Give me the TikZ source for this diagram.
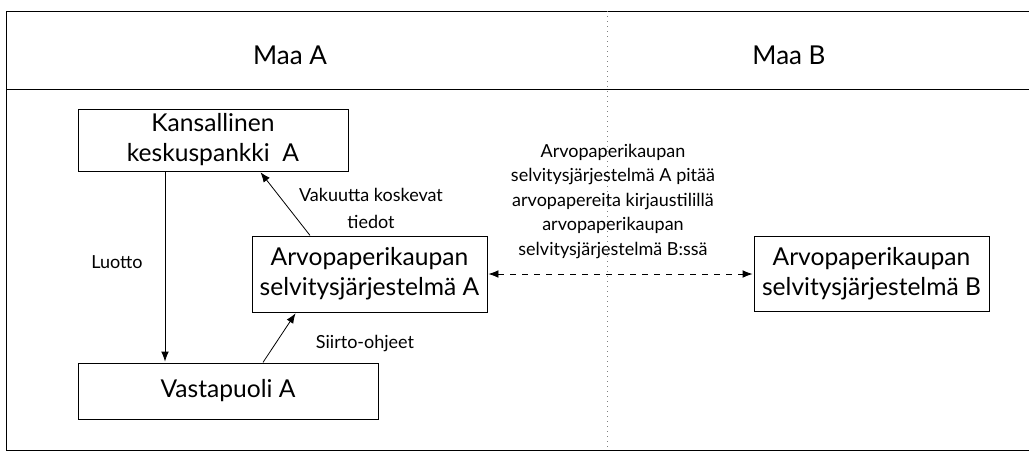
\documentclass[tikz,border=0pt]{standalone}
\usepackage{fontspec}
\setmainfont{Lato}
\usetikzlibrary{arrows.meta}
\begin{document}
\begin{tikzpicture}[x=0.5pt,y=-0.5pt]
\tikzset{ >={Latex[length=5.5pt,width=4.2pt]}, line width=0.6pt,
  laatikko/.style={draw, align=center, inner sep=0pt, font=\fontsize{12.3}{15}\selectfont},
  selite/.style={align=center, inner sep=0pt, font=\fontsize{9}{13.5}\selectfont},
  otsikko/.style={inner sep=0pt, font=\fontsize{13}{15}\selectfont},
}
\useasboundingbox (0,0) rectangle (1029,463);

%\draw [lightgray, dashed](0,0) grid (1029,463);

%%% Kehys

\draw [line width=0.5pt] (1029,11) -- (6,11) -- (6,450) -- (1029,450);
\draw [line width=0.5pt] (6,89) -- (1029,89);
\draw [gray, dotted, line width=0.5pt] (607,11) -- (607,450);
\node [otsikko] (maaA) at (290,55) {Maa A};
\node [otsikko] (maaB) at (789,55) {Maa B};

%%% Laatikot

% Keskuspankki
\node [laatikko, minimum width=135pt, minimum height=31pt] (KA) at (213,140) {Kansallinen\\keskuspankki\ \ A};

% Selvitysjarjestelma A
\node [laatikko, minimum width=117.5pt, minimum height=38pt] (SJA) at (369.5,274) {Arvopaperikaupan\\selvitysjärjestelmä A};

% Vastapuoli
\node [laatikko, minimum width=150pt, minimum height=28pt] (VA) at (228,391) {Vastapuoli A};

% Selvitysjarjestelma B
\node [laatikko, minimum width=117.5pt, minimum height=37.5pt] (SJB) at (871.5,274) {Arvopaperikaupan\\selvitysjärjestelmä B};

%%% Linjat

% luotto
\coordinate (luotto) at (165,0);
\draw [->] (KA.south -| luotto) -- (VA.north -| luotto);
\node [selite] (luottoT) at (117,262) {Luotto};

% vakuustiedot
\coordinate (vakA) at (310,0);
\coordinate (vakB) at (260,0);
\draw [->] (SJA.north -| vakA) -- (KA.south -| vakB);
\node [selite] (vakT) at (371,208) {Vakuutta koskevat\\tiedot};

% siirto-ohjeet
\coordinate (siiA) at (263,0);
\coordinate (siiB) at (296,0);
\draw [->] (VA.north -| siiA) -- (SJA.south -| siiB);
\node [selite] (siiT) at (365,343) {Siirto-ohjeet};

% A <-> B
\draw [<->, dashed] (SJA.east) -- (SJB.west);
\node [selite, font=\fontsize{9}{12.25}\selectfont] (tiliT) at (613,201) {Arvopaperikaupan\\selvitysjärjestelmä A pitää\\arvopapereita kirjaustilillä\\arvopaperikaupan\\selvitysjärjestelmä B:ssä};

\end{tikzpicture}
\end{document}
